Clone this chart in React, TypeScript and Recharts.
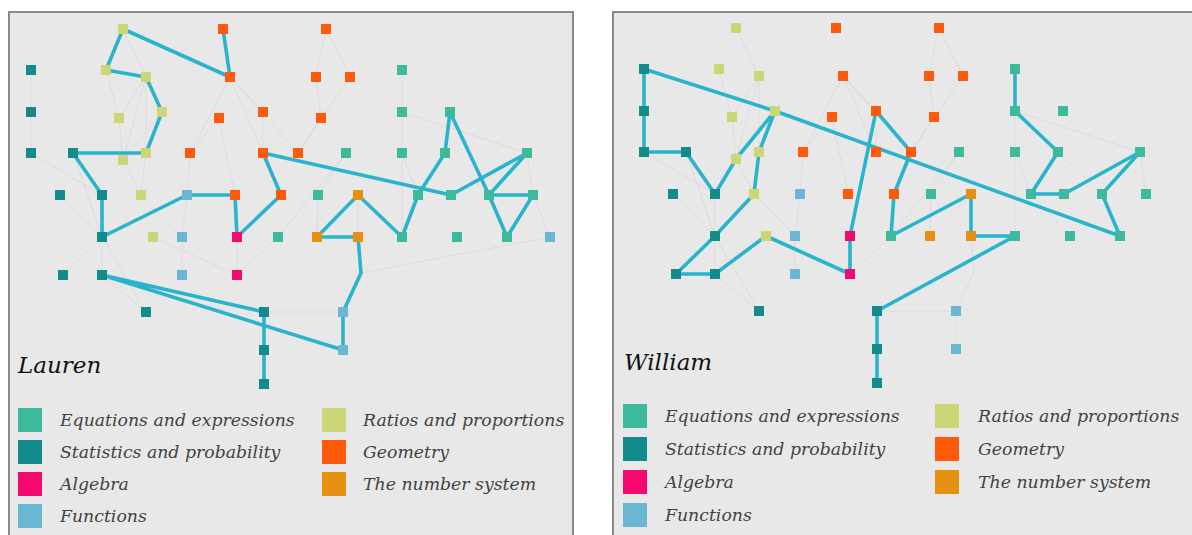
import React from "react";
import { ScatterChart, Scatter, XAxis, YAxis } from "recharts";

// ---- categories ----
const categoryNames = [
  "Equations and expressions",
  "Statistics and probability",
  "Algebra",
  "Functions",
  "Ratios and proportions",
  "Geometry",
  "The number system",
];
const categoryColors = ["#3dba9c", "#138a8c", "#f5096f", "#6ab7d4", "#ccd676", "#ff5a0a", "#e6900f"];

// ---- knowledge-graph nodes (layout units) ; category -1 = routing point ----
const nodeIds = [
  "n1", "n2", "n3",
  "n4", "n5", "n6",
  "n7", "n8", "n9", "n10",
  "n11", "n12", "n13", "n14", "n15",
  "n16", "n17", "n18",
  "n19", "n20", "n21", "n22", "n23", "n24", "n25", "n26", "n27", "n28",
  "n29",
  "n30", "n31", "n32", "n33", "n34", "n35", "n36", "n37", "n38", "n39", "n40", "n41",
  "n42", "n43", "n44", "n45", "n46", "n47", "n48", "n49", "n50", "n51", "n52",
  "n53", "n54", "n55", "n56",
  "d1",
  "n57", "n58", "n59",
  "n60", "n61",
  "n62",
];
const nodeX = [
  123, 223, 326,
  31, 106, 402,
  146, 230, 316, 350,
  31, 162, 263, 402, 450,
  119, 219, 321,
  31, 73, 146, 190, 263, 298, 346, 402, 445, 527,
  123,
  60, 102, 141, 187, 235, 281, 318, 358, 418, 451, 489, 533,
  102, 153, 182, 237, 278, 317, 358, 402, 457, 507, 550,
  63, 102, 182, 237,
  361,
  146, 264, 343,
  264, 343,
  264,
];
const nodeY = [
  29, 29, 29,
  70, 70, 70,
  77, 77, 77, 77,
  112, 112, 112, 112, 112,
  118, 118, 118,
  153, 153, 153, 153, 153, 153, 153, 153, 153, 153,
  160,
  195, 195, 195, 195, 195, 195, 195, 195, 195, 195, 195, 195,
  237, 237, 237, 237, 237, 237, 237, 237, 237, 237, 237,
  275, 275, 275, 275,
  273,
  312, 312, 312,
  350, 350,
  384,
];
const nodeCategory = [
  4, 5, 5,
  1, 4, 0,
  4, 5, 5, 5,
  1, 4, 5, 0, 0,
  4, 5, 5,
  1, 1, 4, 5, 5, 5, 0, 0, 0, 0,
  4,
  1, 1, 4, 3, 5, 5, 0, 6, 0, 0, 0, 0,
  1, 4, 3, 2, 0, 6, 6, 0, 0, 0, 3,
  1, 1, 3, 2,
  -1,
  1, 1, 3,
  1, 3,
  1,
];

// ---- prerequisite links (thin grey) ----
const linkFrom = [
  "n1", "n5", "n7", "n7", "n7", "n16", "n12", "n21", "n29",
  "n8", "n8", "n8", "n8", "n13", "n17", "n17",
  "n3", "n3", "n9", "n18", "n10",
  "n4", "n11", "n19",
  "n6", "n14", "n26", "n26", "n14", "n25", "n25", "n27", "n28",
  "n30", "n31", "n20", "n32", "n33", "n44", "n42", "n42", "n42", "n43", "n46", "n45", "n54",
  "n36", "n37", "n37", "n48", "d1", "d1", "n59", "n58", "n38", "n40", "n41", "n12", "n22",
];
const linkTo = [
  "n7", "n16", "n16", "n29", "n21", "n29", "n21", "n32", "n32",
  "n22", "n13", "n23", "n24", "n23", "n22", "n34",
  "n9", "n10", "n18", "n24", "n24",
  "n11", "n19", "n31",
  "n14", "n26", "n38", "n49", "n28", "n36", "n46", "n40", "n41",
  "n42", "n42", "n42", "n44", "n44", "n55", "n53", "n54", "n57", "n56", "n56", "n56", "n57",
  "n47", "n47", "n48", "d1", "n59", "n52", "n61", "n59", "n50", "n51", "n52", "n29", "n33",
];

// ---- students' learning paths ----
const laurenPath = [
  "n2", "n8", "n1", "n5", "n7", "n12", "n21", "n20", "n31", "n42", "n33", "n34", "n45", "n35", "n23",
  "n39", "n28", "n40", "n41", "n51", "n40", "n15", "n27", "n38", "n49", "n37", "n47", "n48", "d1",
  "n59", "n61", "n54", "n58", "n60", "n62",
];
const williamPath = [
  "n6", "n14", "n27", "n38", "n39", "n28", "n40", "n51", "n12", "n4", "n11", "n19", "n20", "n31",
  "n29", "n12", "n21", "n32", "n42", "n53", "n54", "n43", "n56", "n45", "n13", "n24", "n35", "n46",
  "n37", "n48", "n49", "n58", "n60", "n62",
];
const williamHidden = ["n52"];

type Pt = { x: number; y: number };
const pointOf = (id: string): Pt => {
  const i = nodeIds.indexOf(id);
  return { x: nodeX[i], y: nodeY[i] };
};

const NoMark = () => <g />;

const makeSquare = (color: string) => (props: any) => {
  const { cx, cy } = props;
  if (cx == null || cy == null) return <g />;
  return <rect x={cx - 5} y={cy - 5} width={10} height={10} fill={color} />;
};

const PATH_COLOR = "#29b3cd";
const LINK_COLOR = "#d4d4d4";

type PanelProps = {
  path: string[];
  hidden: string[];
  chartLeft: number;
  chartTop: number;
};

const Graph = ({ path, hidden, chartLeft, chartTop }: PanelProps) => {
  const W = 566;
  const H = 524;
  const visible = (id: string) => !hidden.includes(id);
  const pathData = path.map(pointOf);
  return (
    <div style={{ position: "absolute", left: chartLeft, top: chartTop, width: W, height: H }}>
      <ScatterChart width={W} height={H} margin={{ top: 0, right: 0, bottom: 0, left: 0 }}>
        <XAxis type="number" dataKey="x" domain={[8, 574]} hide allowDataOverflow />
        <YAxis type="number" dataKey="y" domain={[11, 535]} reversed hide allowDataOverflow />
        {linkFrom.map((f, k) => {
          const t = linkTo[k];
          if (!visible(f) || !visible(t)) return null;
          return (
            <Scatter
              key={"l" + k}
              data={[pointOf(f), pointOf(t)]}
              line={{ stroke: LINK_COLOR, strokeWidth: 0.6 }}
              lineJointType="linear"
              shape={NoMark}
              isAnimationActive={false}
            />
          );
        })}
        <Scatter
          data={pathData}
          line={{ stroke: PATH_COLOR, strokeWidth: 3.6, strokeLinejoin: "round" }}
          lineJointType="linear"
          shape={NoMark}
          isAnimationActive={false}
        />
        {categoryNames.map((c, ci) => {
          const data = nodeIds
            .map((id, i) => ({ id, x: nodeX[i], y: nodeY[i], cat: nodeCategory[i] }))
            .filter((n) => n.cat === ci && visible(n.id));
          return (
            <Scatter
              key={c}
              name={c}
              data={data}
              shape={makeSquare(categoryColors[ci])}
              isAnimationActive={false}
            />
          );
        })}
      </ScatterChart>
    </div>
  );
};

type LegendProps = {
  name: string;
  nameLeft: number;
  nameTop: number;
  sqLeft: [number, number];
  textLeft: [number, number];
  rowTop: number;
  pitch: number;
};

const LegendBlock = ({ name, nameLeft, nameTop, sqLeft, textLeft, rowTop, pitch }: LegendProps) => {
  const order = [0, 1, 2, 3, 4, 5, 6];
  return (
    <>
      <div
        style={{
          position: "absolute",
          left: nameLeft,
          top: nameTop,
          fontFamily: '"DejaVu Serif", serif',
          fontStyle: "italic",
          fontSize: 23,
          color: "#111",
          lineHeight: "30px",
          whiteSpace: "nowrap",
        }}
      >
        {name}
      </div>
      {order.map((ci) => {
        const c = ci < 4 ? 0 : 1;
        const r = ci < 4 ? ci : ci - 4;
        return (
          <div key={ci}>
            <div
              style={{
                position: "absolute",
                left: sqLeft[c],
                top: rowTop + r * pitch,
                width: 24,
                height: 24,
                background: categoryColors[ci],
              }}
            />
            <div
              style={{
                position: "absolute",
                left: textLeft[c],
                top: rowTop + r * pitch,
                height: 24,
                lineHeight: "24px",
                fontFamily: '"DejaVu Serif", serif',
                fontStyle: "italic",
                fontSize: 17.3,
                color: "#424242",
                whiteSpace: "nowrap",
              }}
            >
              {categoryNames[ci]}
            </div>
          </div>
        );
      })}
    </>
  );
};

export default function App() {
  return (
    <div
      style={{
        position: "fixed",
        left: 0,
        top: 0,
        width: 1192,
        height: 535,
        overflow: "hidden",
        background: "#ffffff",
      }}
    >
      <div
        style={{
          position: "absolute",
          left: 8,
          top: 11,
          width: 562,
          height: 540,
          background: "#e8e8e8",
          borderLeft: "2px solid #8a8a8a",
          borderTop: "2px solid #8a8a8a",
          borderRight: "2px solid #8a8a8a",
        }}
      />
      <div
        style={{
          position: "absolute",
          left: 612,
          top: 11,
          width: 620,
          height: 540,
          background: "#e8e8e8",
          borderLeft: "2px solid #8a8a8a",
          borderTop: "2px solid #8a8a8a",
        }}
      />
      <Graph path={laurenPath} hidden={[]} chartLeft={8} chartTop={11} />
      <Graph path={williamPath} hidden={williamHidden} chartLeft={620.5} chartTop={10} />
      <LegendBlock
        name="Lauren"
        nameLeft={18}
        nameTop={350}
        sqLeft={[18, 322]}
        textLeft={[60, 363]}
        rowTop={408}
        pitch={32}
      />
      <LegendBlock
        name="William"
        nameLeft={624}
        nameTop={347}
        sqLeft={[623, 935]}
        textLeft={[665, 978]}
        rowTop={404}
        pitch={33}
      />
    </div>
  );
}
